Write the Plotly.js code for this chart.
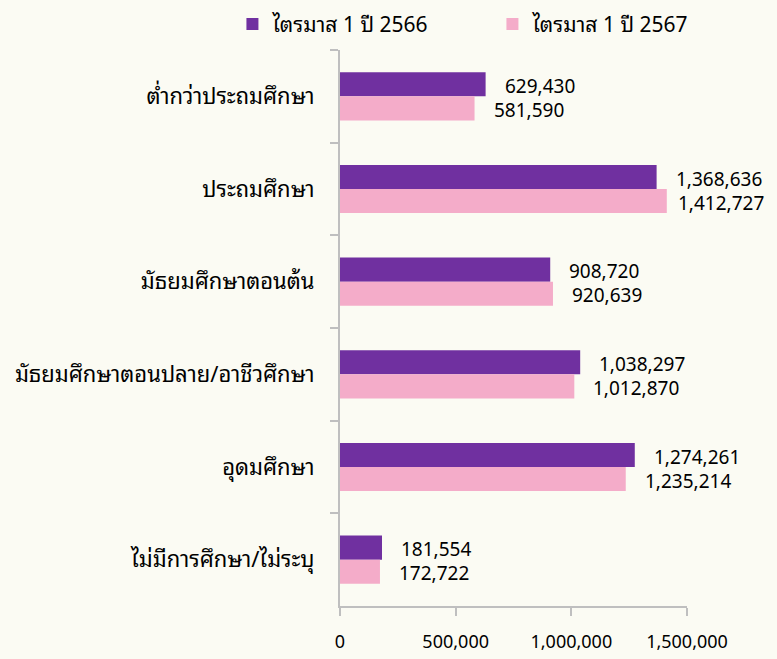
<!DOCTYPE html>
<html>
<head>
<meta charset="utf-8">
<script src="https://cdn.plot.ly/plotly-3.0.1.min.js"></script>
<style>html,body{margin:0;padding:0;background:#FBFBF3;}</style>
</head>
<body>
<div id="chart" style="width:777px;height:659px;"></div>
<script>
const categories = [
  "ต่ำกว่าประถมศึกษา",
  "ประถมศึกษา",
  "มัธยมศึกษาตอนต้น",
  "มัธยมศึกษาตอนปลาย/อาชีวศึกษา",
  "อุดมศึกษา",
  "ไม่มีการศึกษา/ไม่ระบุ"
];
const seriesNames = ["ไตรมาส 1 ปี 2566", "ไตรมาส 1 ปี 2567"];
const values2566 = [629430, 1368636, 908720, 1038297, 1274261, 181554];
const values2567 = [581590, 1412727, 920639, 1012870, 1235214, 172722];
const xTickVals = [0, 500000, 1000000, 1500000];
const xTickText = ["0", "500,000", "1,000,000", "1,500,000"];

const FONT = "Tahoma, 'Noto Sans Thai Looped', 'Noto Sans', 'Noto Sans Thai', 'DejaVu Sans', sans-serif";
const colors = ["#7030A0", "#F4ACC9"];
const fmt = v => v.toLocaleString("en-US");

const traces = [values2566, values2567].map((vals, i) => ({
  type: "bar",
  orientation: "h",
  name: seriesNames[i],
  x: vals,
  y: categories,
  marker: {color: colors[i]},
  hoverinfo: "x+name"
}));

const annotations = [];
[values2566, values2567].forEach((vals, i) => {
  vals.forEach((v, j) => {
    annotations.push({
      x: v, y: categories[j], xref: "x", yref: "y",
      text: fmt(v), showarrow: false,
      xanchor: "left", yanchor: "middle",
      xshift: 17, yshift: i === 0 ? 12 : -12,
      font: {family: FONT, size: 19, color: "#000"}
    });
  });
});

const layout = {
  width: 777, height: 659,
  paper_bgcolor: "#FBFBF3",
  plot_bgcolor: "#FBFBF3",
  margin: {l: 340, r: 90, t: 50, b: 53, autoexpand: false},
  barmode: "group",
  bargap: 0.48,
  bargroupgap: 0,
  font: {family: FONT, size: 18, color: "#000"},
  showlegend: true,
  legend: {
    orientation: "h", x: -0.31, xref: "paper", xanchor: "left",
    y: 1.083, yref: "paper", yanchor: "top",
    font: {family: FONT, size: 21, color: "#000"},
    itemwidth: 30, traceorder: "normal",
    entrywidth: 215, entrywidthmode: "pixels"
  },
  xaxis: {
    range: [0, 1500000],
    tickvals: xTickVals, ticktext: xTickText,
    showgrid: false, zeroline: false,
    showline: true, linecolor: "#BFBFBF", linewidth: 2,
    ticks: "outside", ticklen: 8, tickcolor: "#BFBFBF", tickwidth: 2,
    ticklabelstandoff: 10,
    tickfont: {family: FONT, size: 18, color: "#000"},
    fixedrange: true
  },
  yaxis: {
    type: "category",
    autorange: "reversed",
    showgrid: false, zeroline: false,
    showline: true, linecolor: "#BFBFBF", linewidth: 2,
    ticks: "outside", ticklen: 8, tickcolor: "#BFBFBF", tickwidth: 2,
    tickson: "boundaries",
    ticklabelstandoff: 19,
    tickfont: {family: FONT, size: 22, color: "#000"},
    fixedrange: true
  },
  annotations: annotations
};

Plotly.newPlot("chart", traces, layout, {displayModeBar: false, staticPlot: true}).then(gd => {
  // keep data labels inside the chart area, like the original
  const limit = 764;
  const upd = {};
  gd.querySelectorAll(".annotation").forEach(el => {
    const idx = +el.getAttribute("data-index");
    const box = el.querySelector(".annotation-text").getBoundingClientRect();
    if (box.right > limit) {
      upd["annotations[" + idx + "].xshift"] = 17 - (box.right - limit);
    }
  });
  if (Object.keys(upd).length) Plotly.relayout(gd, upd);
});
</script>
</body>
</html>
